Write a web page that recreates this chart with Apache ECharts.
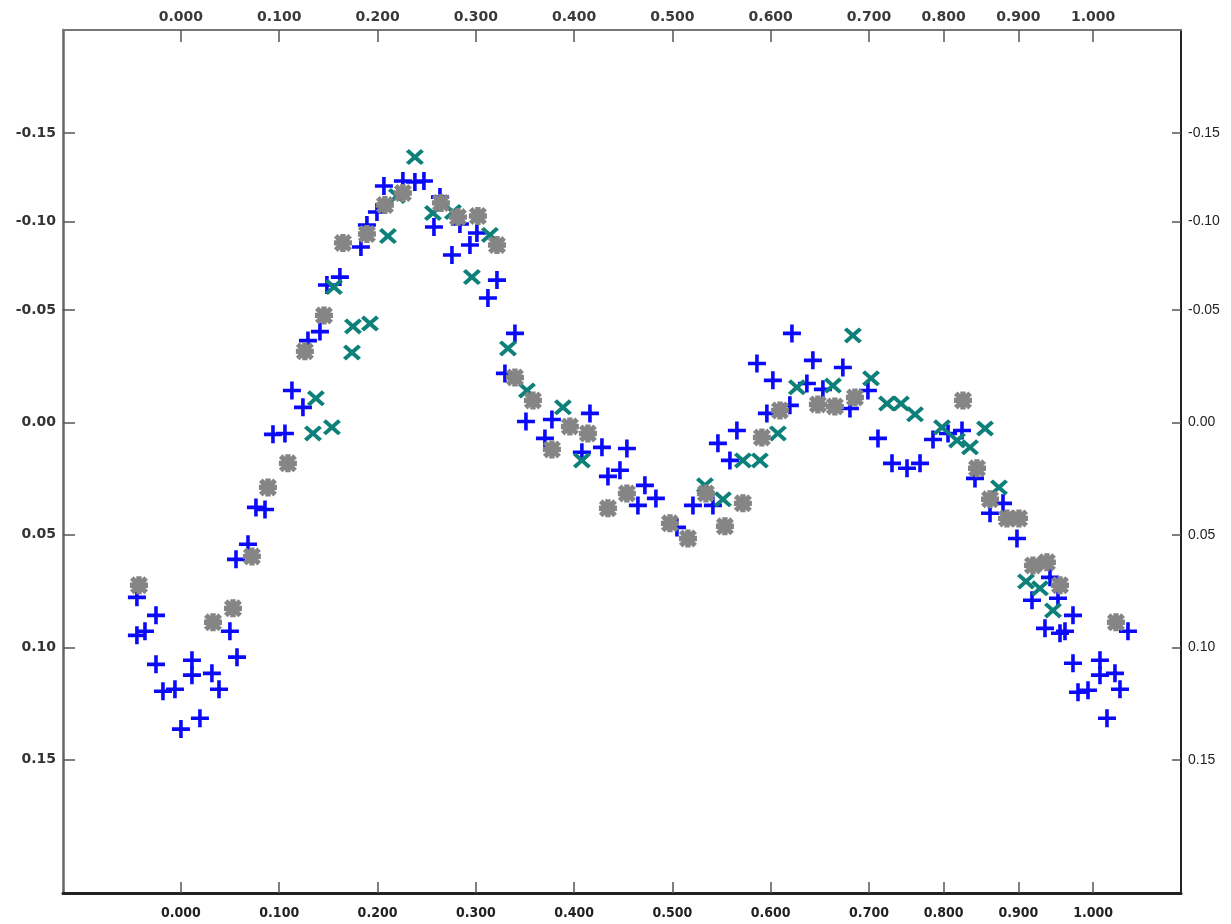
<!DOCTYPE html>
<html><head><meta charset="utf-8">
<script src="https://cdn.jsdelivr.net/npm/echarts@6/dist/echarts.min.js"></script>
<style>html,body{margin:0;padding:0;background:#fff}#c{width:1231px;height:924px}</style>
</head><body><div id="c"></div>
<script>
// ---- tick labels ----
const phaseTicksA = [0.0, 0.1, 0.2, 0.3, 0.4, 0.5, 0.6, 0.7];
const phaseTicksB = [0.8, 0.9, 1.0];
const magTicksUpper = [-0.15, -0.10];
const magTicksLower = [-0.05, 0.0, 0.05, 0.10, 0.15];

// ---- data: [phase, magnitude] ----
const bluePoints = [
  [-0.0448,0.0778],[-0.0254,0.0858],[-0.0448,0.0947],[-0.0366,0.0929],[-0.0254,0.1076],
  [-0.0183,0.1196],[-0.0061,0.1187],[0.0112,0.1058],[0.0112,0.1124],[0.0315,0.1116],
  [0.0387,0.1187],[0.0193,0.1316],[0.0000,0.1364],[0.0498,0.0929],[0.0570,0.1044],
  [0.0560,0.0609],[0.0682,0.0542],[0.0763,0.0378],[0.0855,0.0387],[0.0936,0.0053],
  [0.1058,0.0049],[0.1129,-0.0142],[0.1241,-0.0067],[0.1292,-0.0364],[0.1414,-0.0404],
  [0.1485,-0.0641],[0.1617,-0.0686],[0.1831,-0.0856],[0.1892,-0.0980],[0.1994,-0.1054],
  [0.2065,-0.1201],[0.2258,-0.1229],[0.2380,-0.1223],[0.2472,-0.1229],[0.2635,-0.1138],
  [0.2574,-0.0969],[0.2838,-0.0986],[0.3011,-0.0935],[0.2940,-0.0867],[0.2757,-0.0811],
  [0.3215,-0.0669],[0.3123,-0.0568],[0.3398,-0.0396],[0.3296,-0.0218],[0.3510,-0.0004],
  [0.3774,-0.0013],[0.3703,0.0071],[0.4161,-0.0040],[0.4079,0.0133],[0.4283,0.0111],
  [0.4537,0.0116],[0.4466,0.0213],[0.4344,0.0240],[0.4720,0.0280],[0.4832,0.0338],
  [0.4649,0.0369],[0.5046,0.0467],[0.5209,0.0369],[0.5412,0.0369],[0.5463,0.0093],
  [0.5656,0.0036],[0.5585,0.0169],[0.5860,-0.0262],[0.6022,-0.0187],[0.5961,-0.0040],
  [0.6195,-0.0076],[0.6216,-0.0396],[0.6429,-0.0276],[0.6734,-0.0244],[0.6368,-0.0173],
  [0.6531,-0.0147],[0.6806,-0.0062],[0.6989,-0.0142],[0.7120,0.0071],[0.7308,0.0182],
  [0.7509,0.0204],[0.7683,0.0182],[0.7857,0.0076],[0.8058,0.0049],[0.8245,0.0036],
  [0.8419,0.0249],[0.8620,0.0404],[0.8794,0.0360],[0.8981,0.0516],[0.9423,0.0689],
  [0.9182,0.0791],[0.9530,0.0782],[0.9731,0.0858],[0.9356,0.0916],[0.9557,0.0938],
  [0.9624,0.0929],[1.0467,0.0929],[0.9731,0.1071],[0.9798,0.1200],[0.9932,0.1191],
  [1.0092,0.1058],[1.0092,0.1124],[1.0293,0.1116],[1.0360,0.1187],[1.0186,0.1316]
];
const tealPoints = [
  [0.1750,-0.0427],[0.1923,-0.0440],[0.1740,-0.0311],[0.1373,-0.0107],[0.1343,0.0049],
  [0.1536,0.0022],[0.1556,-0.0630],[0.2106,-0.0918],[0.2197,-0.1144],[0.2380,-0.1364],
  [0.2564,-0.1048],[0.2767,-0.1054],[0.3143,-0.0924],[0.2960,-0.0686],[0.3327,-0.0329],
  [0.3520,-0.0142],[0.3886,-0.0067],[0.4079,0.0169],[0.5331,0.0280],[0.5514,0.0342],
  [0.5717,0.0169],[0.5890,0.0169],[0.6073,0.0049],[0.6267,-0.0156],[0.6633,-0.0164],
  [0.6836,-0.0387],[0.7027,-0.0196],[0.7241,-0.0084],[0.7428,-0.0084],[0.7616,-0.0036],
  [0.7977,0.0022],[0.8178,0.0080],[0.8352,0.0111],[0.8553,0.0027],[0.8740,0.0289],
  [0.9102,0.0707],[0.9289,0.0738],[0.9463,0.0836]
];
const greyPoints = [
  [-0.0427,0.0724],[0.0326,0.0889],[0.0529,0.0827],[0.0722,0.0596],[0.0885,0.0289],
  [0.1088,0.0182],[0.1261,-0.0316],[0.1455,-0.0476],[0.1648,-0.0879],[0.1892,-0.0929],
  [0.2075,-0.1093],[0.2258,-0.1161],[0.2645,-0.1105],[0.2818,-0.1025],[0.3021,-0.1031],
  [0.3215,-0.0867],[0.3398,-0.0200],[0.3581,-0.0098],[0.3774,0.0120],[0.3957,0.0018],
  [0.4140,0.0049],[0.4344,0.0382],[0.4537,0.0316],[0.4975,0.0449],[0.5158,0.0516],
  [0.5341,0.0316],[0.5534,0.0462],[0.5717,0.0360],[0.5910,0.0067],[0.6094,-0.0053],
  [0.6480,-0.0080],[0.6653,-0.0071],[0.6857,-0.0111],[0.8258,-0.0098],[0.8446,0.0204],
  [0.8620,0.0342],[0.8847,0.0427],[0.9008,0.0427],[0.9195,0.0636],[0.9382,0.0622],
  [0.9557,0.0724],[1.0306,0.0889]
];

// ---- layout (piecewise axis segments, as in the original figure) ----
const X_SPLIT = 0.7, Y_SPLIT = -0.05;
const xRanges = [[-0.12, 0.7], [0.7, 1.1177]];
const yRanges = [[-0.2082, -0.05], [-0.05, 0.2093]];
const gridBoxes = [
  {left: 63, top: 30, width: 806, height: 280},
  {left: 63, top: 310, width: 806, height: 583},
  {left: 869, top: 30, width: 312, height: 280},
  {left: 869, top: 310, width: 312, height: 583}
];
// grid index -> [x segment, y segment]
const gridSeg = [[0,0],[0,1],[1,0],[1,1]];

const plusPath = 'path://M8,0h4v8h8v4h-8v8h-4v-8h-8v-4h8z';
const crossPath = 'path://M0,3.3L3.3,0L10,6.7L16.7,0L20,3.3L13.3,10L20,16.7L16.7,20L10,13.3L3.3,20L0,16.7L6.7,10Z';
const starPath = 'path://M7,0h6v7h7v6h-7v7h-6v-7h-7v-6h7zM0,4L4,0L10,6L16,0L20,4L14,10L20,16L16,20L10,14L4,20L0,16L6,10Z';

const topFont = {fontFamily: 'DejaVu Sans', fontWeight: 'bold', fontSize: 14, color: '#3a3a3a'};
const leftFont = {fontFamily: 'DejaVu Sans', fontWeight: 'bold', fontSize: 14, color: '#333'};
const rightFont = {fontFamily: 'Liberation Sans', fontSize: 14, color: '#222'};
const bottomFont = {fontFamily: 'DejaVu Sans Condensed', fontWeight: 'bold', fontSize: 14, color: '#222'};

const xAxes = [], yAxes = [];
gridSeg.forEach(([xs, ys], gi) => {
  const isTop = ys === 0;
  const xt = xs === 0 ? phaseTicksA : phaseTicksB;
  const f = isTop ? topFont : bottomFont;
  xAxes.push({
    type: 'value', gridIndex: gi, position: isTop ? 'top' : 'bottom',
    min: xRanges[xs][0], max: xRanges[xs][1],
    axisLine: {show: true, onZero: false, lineStyle: {color: isTop ? '#777' : '#222', width: isTop ? 2 : 3}},
    axisTick: {show: true, inside: true, length: isTop ? 12 : 11, customValues: xt, lineStyle: {color: '#555', width: 1.5}},
    axisLabel: Object.assign({show: true, margin: isTop ? 6 : 13, customValues: xt, formatter: v => v.toFixed(3)}, f),
    splitLine: {show: false}
  });
  const yt = ys === 0 ? magTicksUpper : magTicksLower;
  const isLeft = xs === 0;
  yAxes.push({
    type: 'value', gridIndex: gi, position: isLeft ? 'left' : 'right', inverse: true,
    min: yRanges[ys][0], max: yRanges[ys][1],
    axisLine: {show: true, onZero: false, lineStyle: {color: isLeft ? '#666' : '#222', width: isLeft ? 2.5 : 2}},
    axisTick: {show: true, inside: true, length: isLeft ? 12 : 9, customValues: yt, lineStyle: {color: '#555', width: 1.5}},
    axisLabel: Object.assign({show: true, margin: 7, customValues: yt, formatter: v => v.toFixed(2)}, isLeft ? leftFont : rightFont),
    splitLine: {show: false}
  });
});

const defs = [
  {name: 'V plus', pts: bluePoints, symbol: plusPath, size: 18, color: '#0a0af8', z: 2},
  {name: 'V cross', pts: tealPoints, symbol: crossPath, size: [18, 16], color: '#0e807a', z: 3},
  {name: 'V star', pts: greyPoints, symbol: starPath, size: 18, color: '#858585', z: 4}
];
const series = [];
defs.forEach(d => {
  gridSeg.forEach(([xs, ys], gi) => {
    const part = d.pts.filter(p => (xs === 0 ? p[0] <= X_SPLIT : p[0] > X_SPLIT) && (ys === 0 ? p[1] <= Y_SPLIT : p[1] > Y_SPLIT));
    series.push({
      type: 'scatter', name: d.name, xAxisIndex: gi, yAxisIndex: gi, data: part,
      symbol: d.symbol, symbolSize: d.size, clip: false, z: d.z,
      itemStyle: {color: d.color, opacity: 1},
      emphasis: {disabled: true}
    });
  });
});

const chart = echarts.init(document.getElementById('c'), null, {renderer: 'canvas'});
chart.setOption({
  backgroundColor: '#fff',
  animation: false,
  grid: gridBoxes.map(b => Object.assign({containLabel: false}, b)),
  xAxis: xAxes,
  yAxis: yAxes,
  series: series
});
</script></body></html>
